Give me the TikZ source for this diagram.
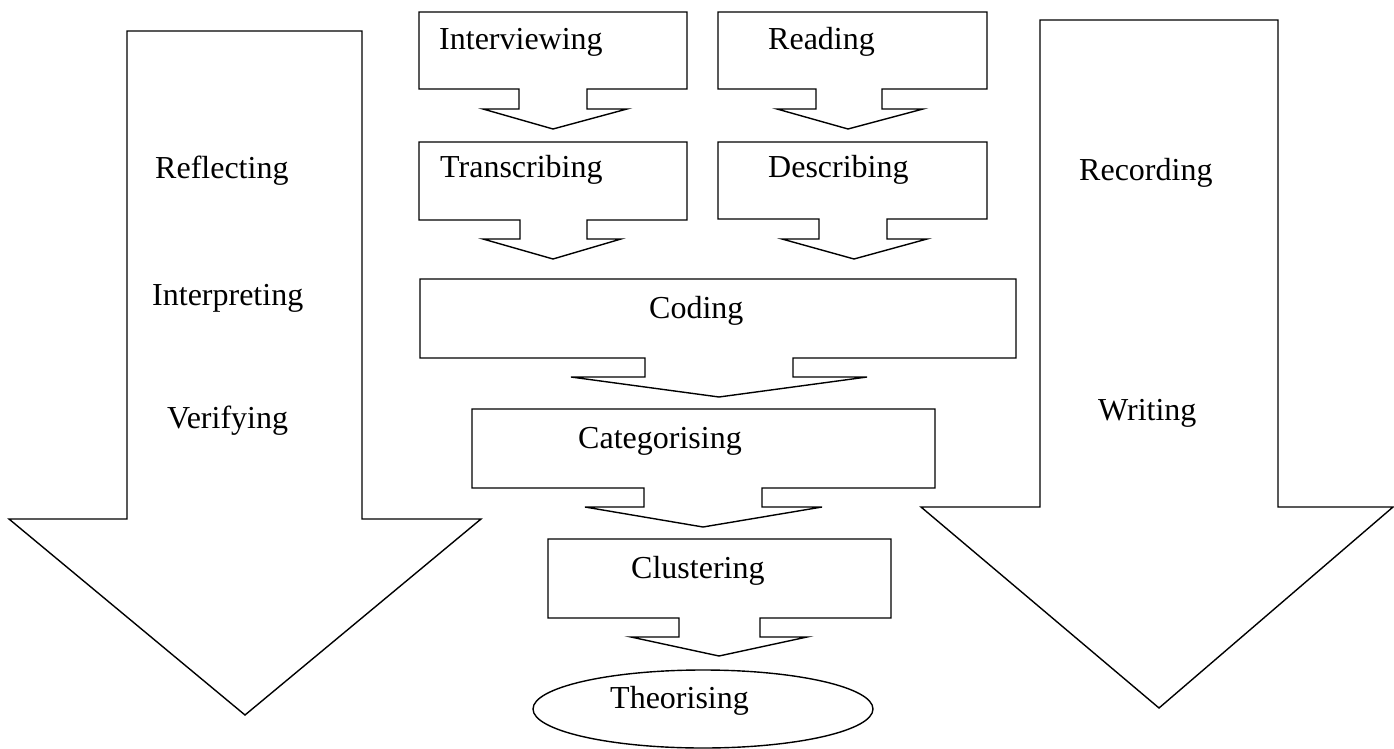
\documentclass[tikz,border=0pt]{standalone}
\usepackage{fontspec}
\setmainfont{Liberation Serif}
\begin{document}
\begin{tikzpicture}[x=1pt,y=-1pt,
  outline/.style={draw=black,line width=1.4pt,line join=miter},
  label/.style={anchor=base west,inner sep=0pt,font=\fontsize{32}{38}\selectfont}]
\useasboundingbox (0,0) rectangle (1394,749);

% big side arrows
\draw[outline] (127,31) -- (362,31) -- (362,519) -- (481,519) -- (245,715)
  -- (9,519) -- (127,519) -- cycle;
\draw[outline] (1040,20) -- (1278,20) -- (1278,507) -- (1393,507) -- (1159,708)
  -- (921,507) -- (1040,507) -- cycle;

% boxes with a downward arrow at the bottom
\draw[outline] (419,12) -- (687,12) -- (687,89) -- (587,89) -- (587,109) -- (627,109)
  -- (553,129) -- (483,109) -- (519,109) -- (519,89) -- (419,89) -- cycle;
\draw[outline] (718,12) -- (987,12) -- (987,89) -- (882,89) -- (882,109) -- (923,109)
  -- (848,129) -- (777,109) -- (816,109) -- (816,89) -- (718,89) -- cycle;
\draw[outline] (419,142) -- (687,142) -- (687,220) -- (587,220) -- (587,239) -- (621,239)
  -- (553,259) -- (483,239) -- (520,239) -- (520,220) -- (419,220) -- cycle;
\draw[outline] (718,142) -- (987,142) -- (987,219) -- (887,219) -- (887,239) -- (927,239)
  -- (854,259) -- (782,239) -- (819,239) -- (819,219) -- (718,219) -- cycle;
\draw[outline] (420,279) -- (1016,279) -- (1016,358) -- (793,358) -- (793,377) -- (867,377)
  -- (719,397) -- (571,377) -- (645,377) -- (645,358) -- (420,358) -- cycle;
\draw[outline] (472,409) -- (935,409) -- (935,488) -- (762,488) -- (762,507) -- (822,507)
  -- (703,527) -- (585,507) -- (644,507) -- (644,488) -- (472,488) -- cycle;
\draw[outline] (548,539) -- (891,539) -- (891,618) -- (760,618) -- (760,637) -- (807,637)
  -- (719,656) -- (631,637) -- (679,637) -- (679,618) -- (548,618) -- cycle;
\draw[outline] (703,709) ellipse [x radius=170, y radius=39];

% labels
\node[label] (interviewing) at (439,50)  {Interviewing};
\node[label] (reading)      at (768,50)  {Reading};
\node[label] (transcribing) at (440,177) {Transcribing};
\node[label] (describing)   at (768,177) {Describing};
\node[label] (coding)       at (649,318) {Coding};
\node[label] (categorising) at (578,448) {Categorising};
\node[label] (clustering)   at (631,578) {Clustering};
\node[label] (theorising)   at (610,708) {Theorising};
\node[label] (reflecting)   at (155,178) {Reflecting};
\node[label] (interpreting) at (152,305) {Interpreting};
\node[label] (verifying)    at (167,428) {Verifying};
\node[label] (recording)    at (1079,180) {Recording};
\node[label] (writing)      at (1098,420) {Writing};
\end{tikzpicture}
\end{document}
